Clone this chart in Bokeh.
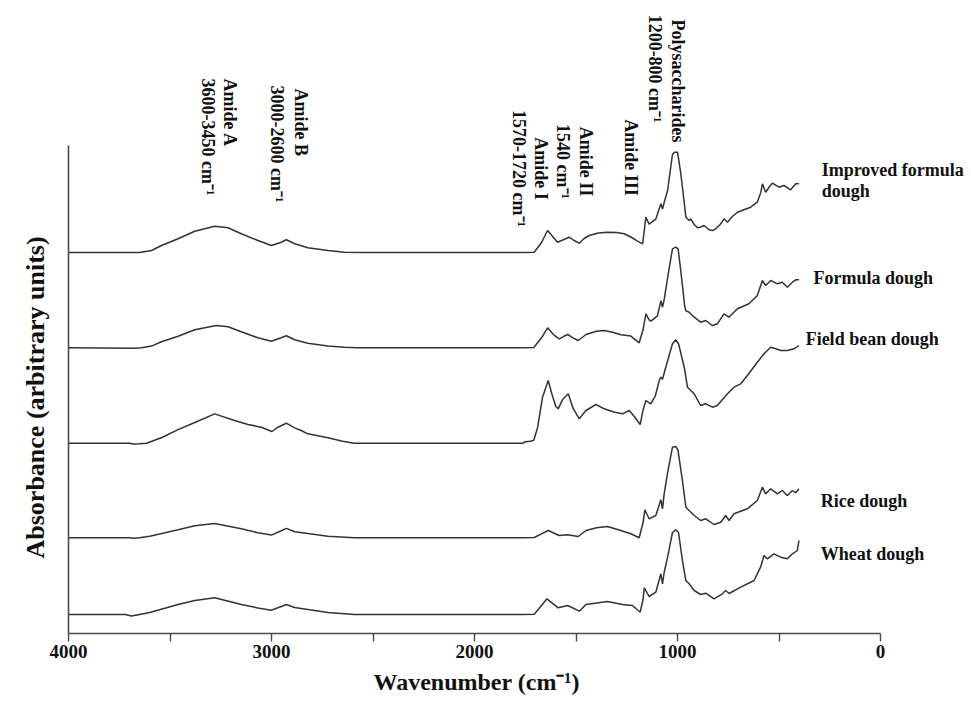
import numpy as np
from bokeh.plotting import figure
from bokeh.models import Range1d, FixedTicker, Label, Title
from bokeh.embed import file_html
from bokeh.resources import INLINE

# ---------------- data ----------------
series_names = ["Improved formula dough", "Formula dough", "Field bean dough",
                "Rice dough", "Wheat dough"]
offsets = [3.81, 2.857, 1.903, 0.957, 0.19]   # vertical stacking of spectra

improved_wn = [4000, 3650, 3591, 3542, 3460, 3378, 3280, 3214, 3149, 3067,
               3001, 2952, 2927, 2886, 2821, 2722, 2641, 2550, 1760, 1706,
               1670, 1640, 1615, 1591, 1560, 1534, 1510, 1484, 1460, 1435,
               1390, 1345, 1300, 1263, 1230, 1197, 1172, 1156, 1140, 1107,
               1082, 1074, 1066, 1049, 1025, 1015, 1000, 984, 970, 959,
               943, 935, 918, 902, 886, 869, 845, 828, 812, 790,
               771, 754, 730, 705, 670, 640, 607, 590, 582, 566,
               550, 533, 500, 476, 443, 418, 402]
improved_abs = [0, 0, .02, .07, .137, .213, .263, .247, .187, .12,
                .07, .103, .127, .087, .047, .02, .003, 0, 0, .003,
                .10, .22, .16, .103, .13, .153, .12, .093, .14, .17,
                .195, .203, .20, .187, .155, .113, .087, .353, .284, .334,
                .487, .434, .50, .62, .98, 1.003, 1.003, .79, .55, .353,
                .32, .337, .28, .247, .255, .27, .227, .22, .237, .28,
                .337, .303, .36, .403, .43, .453, .503, .60, .687, .603,
                .65, .693, .653, .67, .627, .687, .687]

formula_wn = [4000, 3680, 3640, 3591, 3542, 3460, 3378, 3272, 3214, 3149,
              3067, 3001, 2952, 2927, 2886, 2821, 2722, 2641, 2580, 1760,
              1708, 1670, 1640, 1610, 1583, 1560, 1541, 1515, 1489, 1451,
              1400, 1361, 1320, 1279, 1230, 1189, 1170, 1156, 1140, 1131,
              1099, 1082, 1074, 1066, 1045, 1025, 1009, 997, 980, 965,
              959, 943, 918, 886, 861, 828, 804, 771, 747, 705,
              648, 607, 582, 566, 541, 508, 484, 459, 434, 418,
              402]
formula_abs = [0, -.005, 0, .017, .06, .116, .18, .223, .21, .16,
               .10, .066, .10, .12, .08, .046, .018, .005, 0, 0,
               .003, .10, .20, .13, .09, .115, .133, .10, .073, .133,
               .165, .173, .155, .13, .117, .05, .18, .34, .28, .266,
               .32, .47, .406, .48, .75, .99, 1.006, .99, .70, .42,
               .37, .356, .306, .256, .273, .223, .24, .34, .306, .39,
               .44, .523, .673, .623, .673, .64, .656, .606, .656, .68,
               .68]

fieldbean_wn = [4000, 3700, 3680, 3650, 3616, 3540, 3460, 3378, 3280, 3182,
                3116, 3050, 2998, 2968, 2927, 2886, 2854, 2821, 2722, 2650,
                2593, 1760, 1750, 1725, 1708, 1689, 1665, 1637, 1620, 1600,
                1588, 1565, 1538, 1515, 1484, 1451, 1402, 1361, 1310, 1271,
                1238, 1210, 1184, 1170, 1156, 1132, 1110, 1090, 1082, 1074,
                1058, 1025, 1009, 995, 967, 951, 918, 886, 861, 828,
                804, 754, 722, 689, 656, 607, 574, 541, 516, 492,
                459, 426, 402]
fieldbean_abs = [0, 0, -.008, -.005, 0, .057, .136, .207, .293, .227,
                 .187, .16, .117, .16, .20, .153, .127, .094, .054, .02,
                 0, 0, .015, .02, .03, .16, .46, .627, .50, .37,
                 .344, .44, .494, .35, .244, .327, .387, .344, .31, .294,
                 .327, .26, .187, .33, .427, .394, .47, .627, .66, .64,
                 .76, .994, 1.034, .994, .76, .56, .494, .377, .394, .36,
                 .377, .494, .56, .594, .677, .81, .894, .96, .944, .927,
                 .927, .944, .977]

rice_wn = [4000, 3700, 3680, 3650, 3600, 3460, 3378, 3280, 3149, 3067,
           3001, 2952, 2927, 2886, 2821, 2722, 2593, 1760, 1706, 1670,
           1637, 1583, 1541, 1489, 1451, 1400, 1345, 1279, 1230, 1189,
           1170, 1161, 1140, 1107, 1082, 1074, 1066, 1049, 1025, 1009,
           998, 976, 959, 943, 918, 886, 861, 820, 787, 763,
           746, 722, 656, 607, 582, 566, 541, 508, 484, 459,
           434, 418, 402]
rice_abs = [0, 0, -.005, 0, .015, .08, .12, .144, .09, .05,
            .027, .07, .094, .06, .044, .015, 0, 0, .003, .04,
            .073, .023, .03, .013, .073, .10, .113, .073, .04, 0,
            .15, .28, .19, .223, .38, .29, .44, .65, .906, .913,
            .88, .573, .306, .273, .223, .173, .19, .133, .156, .223,
            .173, .24, .29, .373, .506, .44, .49, .44, .473, .423,
            .473, .45, .49]

wheat_wn = [4000, 3720, 3690, 3650, 3600, 3460, 3378, 3280, 3149, 3067,
            3001, 2952, 2927, 2886, 2821, 2722, 2593, 1760, 1706, 1670,
            1643, 1588, 1541, 1484, 1451, 1345, 1271, 1222, 1184, 1170,
            1164, 1140, 1107, 1082, 1074, 1066, 1049, 1025, 1009, 995,
            976, 959, 943, 918, 886, 861, 820, 779, 763, 746,
            689, 623, 591, 574, 558, 525, 492, 459, 434, 410,
            402]
wheat_abs = [0, 0, -.015, 0, .02, .10, .14, .167, .10, .065,
             .043, .08, .10, .07, .05, .02, 0, 0, .003, .09,
             .157, .067, .09, .033, .10, .13, .10, .09, .023, .15,
             .267, .18, .223, .407, .307, .42, .573, .82, .847, .82,
             .54, .34, .307, .24, .20, .213, .157, .207, .24, .21,
             .273, .34, .473, .59, .557, .607, .573, .557, .607, .64,
             .74]

spectra_wn = [improved_wn, formula_wn, fieldbean_wn, rice_wn, wheat_wn]
spectra_abs = [improved_abs, formula_abs, fieldbean_abs, rice_abs, wheat_abs]

x_major_ticks = [0, 1000, 2000, 3000, 4000]
x_minor_ticks = [500, 1500, 2500, 3500]

# band annotations: text, wavenumber, y, alignment along the (rotated) text
band_labels = [
    ("Amide A", 3203, 5.55, "left"),
    ("3600-3450 cm\u207b\u00b9", 3311, 5.55, "left"),
    ("Amide B", 2854, 5.45, "left"),
    ("3000-2600 cm\u207b\u00b9", 2972, 5.48, "left"),
    ("1570-1720 cm\u207b\u00b9", 1781, 4.65, "center"),
    ("Amide I", 1673, 4.65, "center"),
    ("1540 cm\u207b\u00b9", 1564, 4.72, "center"),
    ("Amide II", 1451, 4.72, "center"),
    ("Amide III", 1230, 4.76, "center"),
    ("1200-800 cm\u207b\u00b9", 1112, 5.11, "right"),
    ("Polysaccharides", 999, 4.91, "right"),
]

# series name labels on the right: text, wavenumber, y
name_labels = [
    ("Improved formula", 290, 4.635),
    ("dough", 290, 4.43),
    ("Formula dough", 330, 3.56),
    ("Field bean dough", 369, 2.95),
    ("Rice dough", 295, 1.33),
    ("Wheat dough", 295, 0.80),
]

# ---------------- figure ----------------
FONT = "Liberation Serif"
AXIS_COLOR = "#4a4a4a"
LINE_COLOR = "#333333"
TEXT_COLOR = "#111111"

p = figure(width=971, height=701,
           x_range=Range1d(4000, -448), y_range=Range1d(0, 6.33),
           output_backend="svg", toolbar_location=None,
           min_border_left=67, min_border_right=0,
           min_border_top=0, min_border_bottom=68)
p.background_fill_color = "white"
p.border_fill_color = "white"
p.outline_line_color = None
p.grid.visible = False

for wn, ab, off in zip(spectra_wn, spectra_abs, offsets):
    y = np.array(ab) + off
    p.line(x=wn, y=y, line_color=LINE_COLOR, line_width=1.5)

# x axis
xa = p.xaxis[0]
xa.bounds = (0, 4000)
xa.ticker = FixedTicker(ticks=x_major_ticks, minor_ticks=x_minor_ticks)
xa.axis_line_color = AXIS_COLOR
xa.axis_line_width = 1.6
xa.major_tick_line_color = AXIS_COLOR
xa.minor_tick_line_color = AXIS_COLOR
xa.major_tick_line_width = 1.4
xa.minor_tick_line_width = 1.4
xa.major_tick_in = 0
xa.major_tick_out = 8
xa.minor_tick_in = 0
xa.minor_tick_out = 8
xa.major_label_text_font = FONT
xa.major_label_text_font_style = "bold"
xa.major_label_text_font_size = "19px"
xa.major_label_text_color = TEXT_COLOR
xa.major_label_standoff = 3

# y axis: line only
ya = p.yaxis[0]
ya.bounds = (0, 4.88)
ya.ticker = FixedTicker(ticks=[])
ya.axis_line_color = AXIS_COLOR
ya.axis_line_width = 1.6
ya.major_tick_line_color = None
ya.minor_tick_line_color = None
ya.major_label_text_font_size = "0px"

# axis titles as titles so that they can be positioned along the axes
p.add_layout(Title(text="Wavenumber (cm\u207b\u00b9)", align="left", offset=305,
                   text_font=FONT, text_font_style="bold", text_font_size="24px",
                   text_color=TEXT_COLOR, standoff=13), "below")
p.add_layout(Title(text="Absorbance (arbitrary units)", align="left", offset=75,
                   text_font=FONT, text_font_style="bold", text_font_size="26px",
                   text_color=TEXT_COLOR, standoff=37), "left")

for text, wn, y, align in band_labels:
    p.add_layout(Label(x=wn, y=y, text=text, angle=-np.pi / 2,
                       text_align=align, text_baseline="middle",
                       text_font=FONT, text_font_style="bold",
                       text_font_size="18px", text_color=TEXT_COLOR))

for text, wn, y in name_labels:
    p.add_layout(Label(x=wn, y=y, text=text,
                       text_align="left", text_baseline="middle",
                       text_font=FONT, text_font_style="bold",
                       text_font_size="18px", text_color=TEXT_COLOR))

open("out.html", "w").write(file_html(p, INLINE))
